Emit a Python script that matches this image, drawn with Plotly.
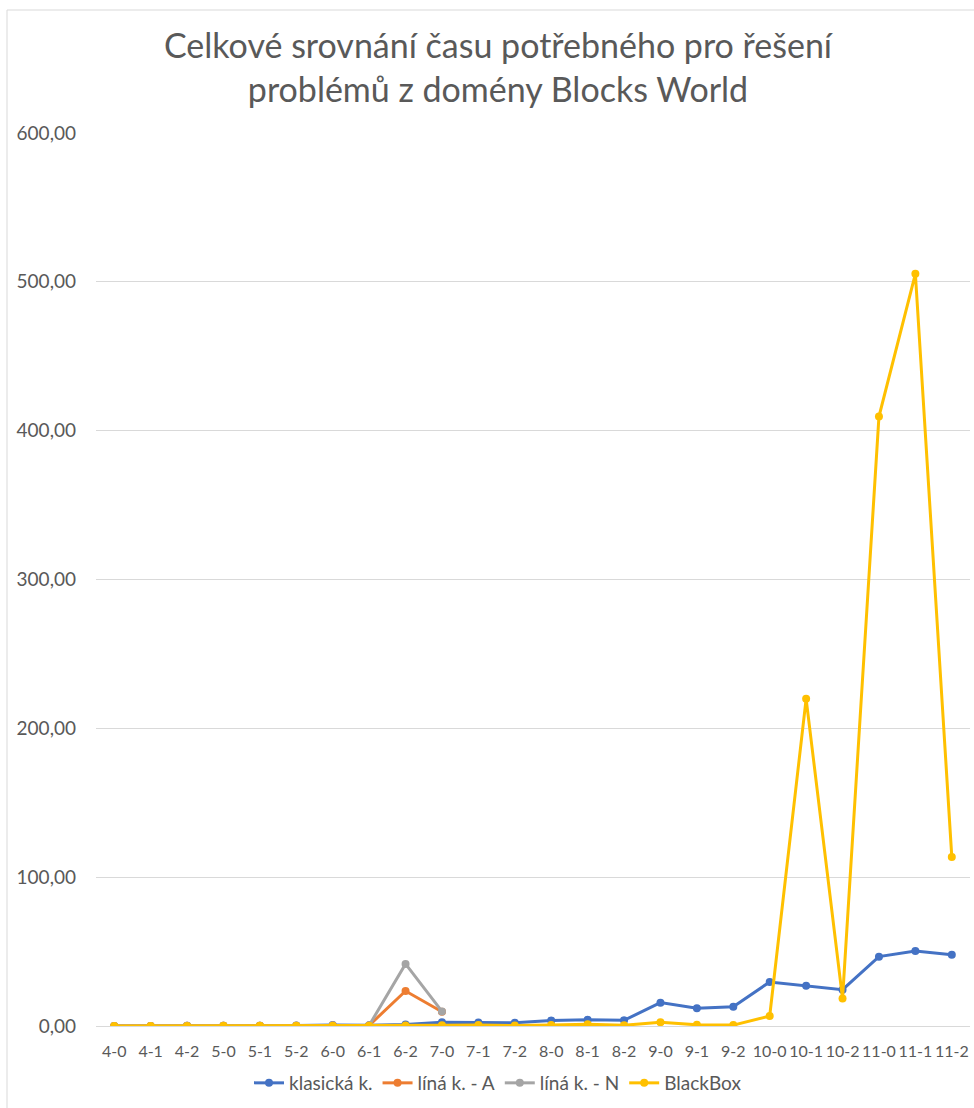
import plotly.graph_objects as go

categories = ['4-0', '4-1', '4-2', '5-0', '5-1', '5-2', '6-0', '6-1', '6-2', '7-0', '7-1', '7-2',
              '8-0', '8-1', '8-2', '9-0', '9-1', '9-2', '10-0', '10-1', '10-2', '11-0', '11-1', '11-2']

klasicka = [0.05, 0.05, 0.1, 0.15, 0.2, 0.3, 0.6, 0.5, 1.0, 2.5, 2.4, 2.2,
            3.7, 4.2, 3.8, 15.7, 11.9, 13.0, 29.6, 27.1, 24.4, 46.6, 50.4, 47.9]
lina_a = [0.05, 0.05, 0.1, 0.1, 0.15, 0.2, 0.3, 0.4, 23.5, 9.6] + [None] * 14
lina_n = [0.05, 0.05, 0.1, 0.1, 0.15, 0.2, 0.3, 0.4, 41.7, 9.8] + [None] * 14
blackbox = [0.05, 0.05, 0.05, 0.1, 0.1, 0.1, 0.2, 0.2, 0.3, 0.5, 0.6, 0.3,
            0.7, 1.2, 0.5, 2.5, 0.8, 0.6, 6.7, 219.8, 18.4, 409.5, 505.4, 113.6]

series = [
    ("klasická k.", klasicka, "#4472C4"),
    ("líná k. - A", lina_a, "#ED7D31"),
    ("líná k. - N", lina_n, "#A5A5A5"),
    ("BlackBox", blackbox, "#FFC000"),
]

FONT = "Lato"
TXT = "#595959"

fig = go.Figure()
for name, vals, color in series:
    fig.add_trace(go.Scatter(
        x=categories, y=vals, name=name, mode="lines+markers",
        line=dict(color=color, width=3),
        marker=dict(color=color, size=8),
        connectgaps=False,
    ))

W, H = 974, 1108
L, R, T, B = 96, 4, 133, 82
pw = W - L - R
ph = H - T - B

fig.update_layout(
    width=W, height=H,
    margin=dict(l=L, r=R, t=T, b=B, pad=0),
    paper_bgcolor="white", plot_bgcolor="white",
    separators=", ",
    font=dict(family=FONT, color=TXT, size=16),
    title=dict(
        text="Celkové srovnání času potřebného pro řešení<br>problémů z domény Blocks World",
        font=dict(family=FONT, size=34, color=TXT),
        x=498 / W, xanchor="center", xref="container",
        y=1 - 58 / H, yanchor="middle", yref="container",
    ),
    xaxis=dict(
        type="category", range=[-0.5, 23.5],
        showgrid=False, showline=True, linecolor="#D9D9D9", linewidth=1,
        ticks="", tickfont=dict(size=16, color=TXT, family=FONT),
        ticklabelstandoff=11, zeroline=False,
    ),
    yaxis=dict(
        range=[0, 600], dtick=100, tickformat=".2f",
        showgrid=True, gridcolor="#D9D9D9", gridwidth=1,
        zeroline=False, showline=False, ticks="",
        tickfont=dict(size=19, color=TXT, family=FONT),
        ticklabelstandoff=19,
    ),
    legend=dict(
        orientation="h", x=(498 - L) / pw, xanchor="center",
        y=(H - B - 1083) / ph, yanchor="middle",
        font=dict(size=19, color=TXT, family=FONT),
        bgcolor="rgba(0,0,0,0)",
    ),
    showlegend=True,
)

fig.add_shape(
    type="rect", xref="paper", yref="paper",
    x0=(7 - L) / pw, x1=1.2, y0=-0.3, y1=(H - B - 10) / ph,
    line=dict(color="#D9D9D9", width=1), fillcolor="rgba(0,0,0,0)",
    layer="below",
)

fig.write_html("out.html")
